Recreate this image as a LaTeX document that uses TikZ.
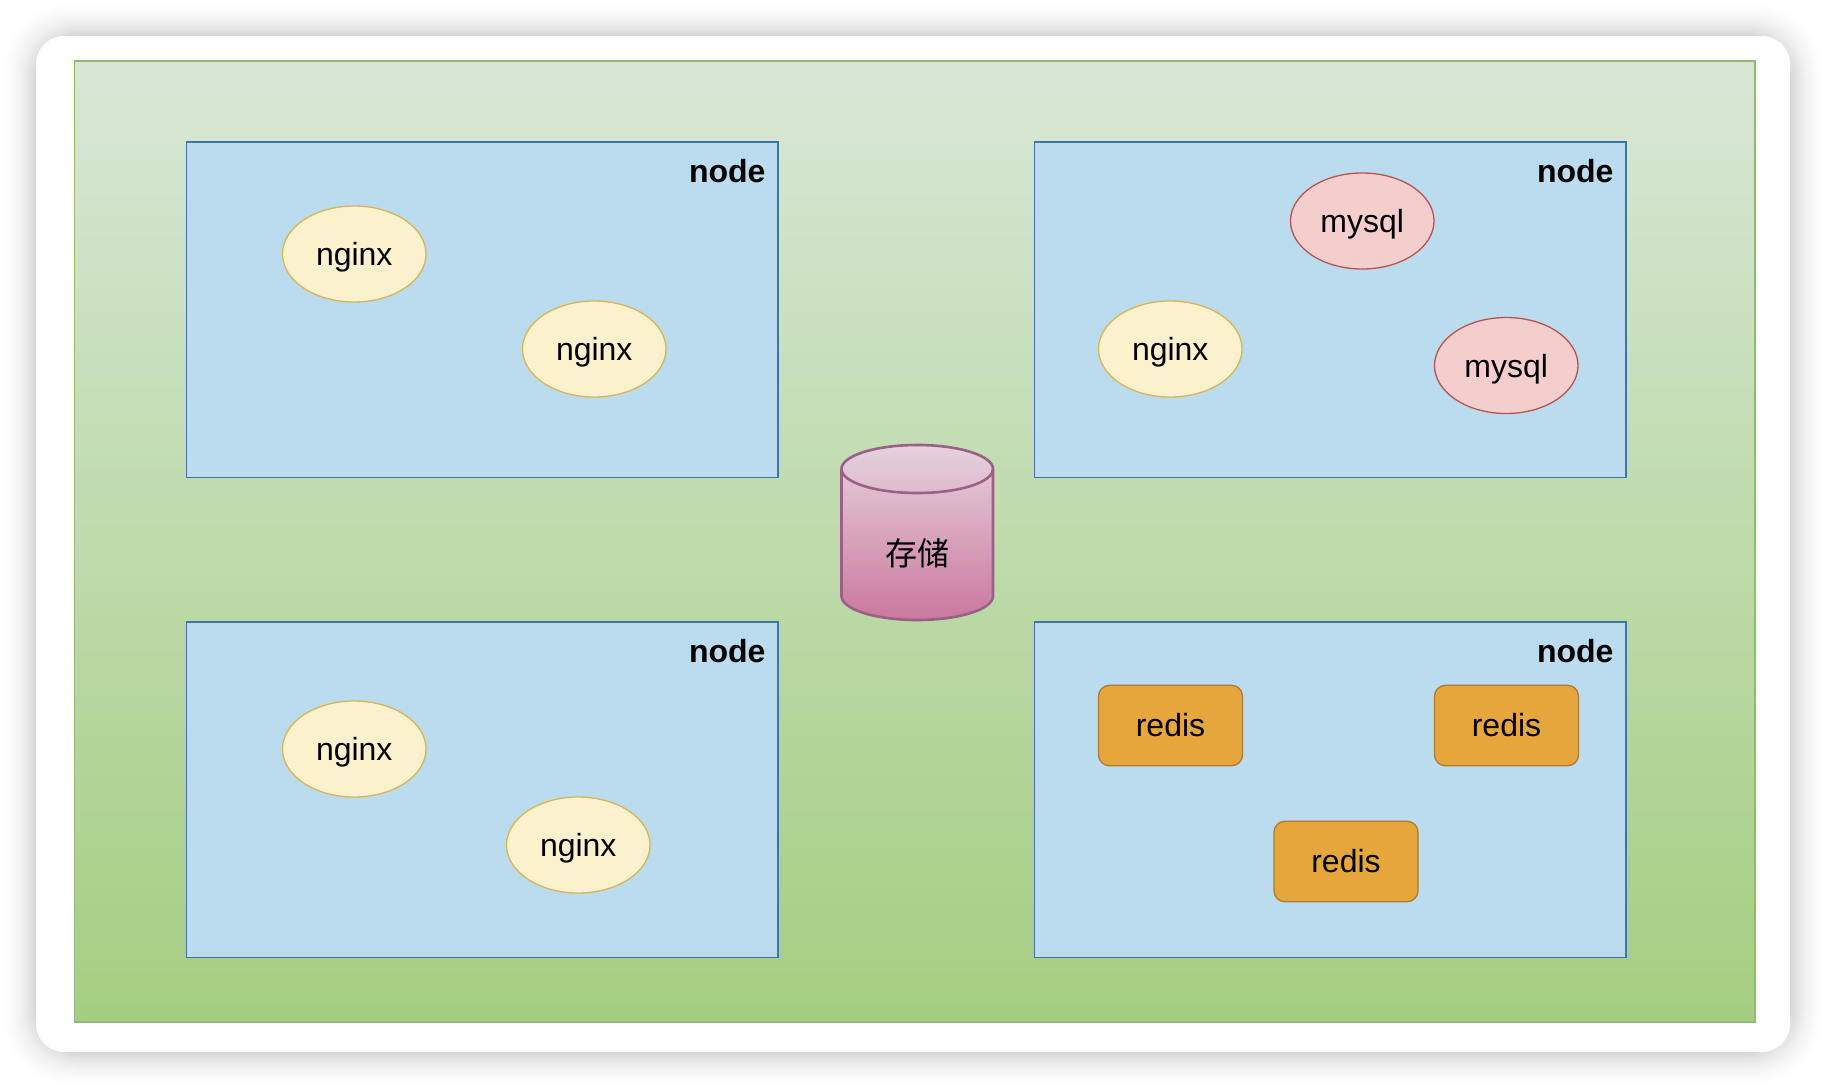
\documentclass[tikz,border=0pt]{standalone}
\usepackage{fontspec}
\usetikzlibrary{shapes.geometric}
\setmainfont{Liberation Sans}
\newfontfamily\cjkfont{Noto Sans CJK SC}
\begin{document}
\begin{tikzpicture}[x=1pt,y=-1pt,
  every node/.style={inner sep=0pt,outer sep=0pt,font=\fontsize{32}{36}\selectfont,text=black},
  hostbox/.style={draw=hostline,fill=hostfill,line width=1.8pt,minimum width=591.5pt,minimum height=335.5pt},
  hostlabel/.style={anchor=east,font=\fontsize{32}{36}\selectfont\bfseries},
  nginxpod/.style={ellipse,draw=nginxline,fill=nginxfill,line width=1.3pt,minimum width=143.5pt,minimum height=96pt,text height=23.3pt,text depth=0pt},
  mysqlpod/.style={ellipse,draw=mysqlline,fill=mysqlfill,line width=1.3pt,minimum width=143.5pt,minimum height=96pt,text height=23.3pt,text depth=0pt},
  redispod/.style={rectangle,rounded corners=11pt,draw=redisline,fill=redisfill,line width=1.3pt,minimum width=144pt,minimum height=80.5pt},
]
\definecolor{hostline}{HTML}{3B76A6}
\definecolor{hostfill}{HTML}{BBDBEF}
\definecolor{nginxline}{HTML}{D6B656}
\definecolor{nginxfill}{HTML}{FCF1CD}
\definecolor{mysqlline}{HTML}{B85450}
\definecolor{mysqlfill}{HTML}{F3CECC}
\definecolor{redisline}{HTML}{B07A2F}
\definecolor{redisfill}{HTML}{E5A63B}
\definecolor{greenline}{HTML}{8FBC6E}
\definecolor{greentop}{HTML}{D9E7D7}
\definecolor{greenbot}{HTML}{A4CE80}
\definecolor{cylline}{HTML}{996185}
\definecolor{cyltop}{HTML}{E6D2DF}
\definecolor{cylbot}{HTML}{CB789C}

\useasboundingbox (0,0) rectangle (1826,1088);
\fill[white] (0,0) rectangle (1826,1088);

% soft shadow of the card
\foreach \i in {36,35,...,0}{
  \pgfmathsetmacro{\dk}{17*(1-\i/36)*(1-\i/36)}
  \pgfmathsetmacro{\rr}{48+0.5*\i}
  \fill[black!\dk,rounded corners=\rr pt] (36-\i,36-\i) rectangle (1790+\i,1052+\i);
}
% card
\fill[white,rounded corners=28pt] (36,36) rectangle (1790,1052);

% cluster background
\node[rectangle,draw=greenline,line width=1.7pt,top color=greentop,bottom color=greenbot,
      minimum width=1680.5pt,minimum height=960.5pt] (cluster) at (914.75,541.5) {};

% hosts
\node[hostbox] (hostA) at (482.25,309.75) {};
\node[hostbox] (hostB) at (1330.25,309.75) {};
\node[hostbox] (hostC) at (482.25,789.75) {};
\node[hostbox] (hostD) at (1330.25,789.75) {};
\node[hostlabel] (labelA) at (765.5,171) {node};
\node[hostlabel] (labelB) at (1613.5,171) {node};
\node[hostlabel] (labelC) at (765.5,651) {node};
\node[hostlabel] (labelD) at (1613.5,651) {node};

% pods
\node[nginxpod] (n1) at (354.25,254) {nginx};
\node[nginxpod] (n2) at (594.25,349) {nginx};
\node[nginxpod] (n3) at (1170.25,349) {nginx};
\node[nginxpod] (n4) at (354.25,749) {nginx};
\node[nginxpod] (n5) at (578.25,845) {nginx};
\node[mysqlpod] (m1) at (1362.25,221) {mysql};
\node[mysqlpod] (m2) at (1506.25,365.5) {mysql};
\node[redispod] (r1) at (1170.5,725.5) {redis};
\node[redispod] (r2) at (1506.5,725.5) {redis};
\node[redispod] (r3) at (1346,861.5) {redis};

% storage cylinder
\path[draw=cylline,line width=2.6pt,top color=cyltop,bottom color=cylbot]
  (841.5,469) .. controls (841.5,455.7) and (875.4,445) .. (917.25,445)
  .. controls (959.1,445) and (993,455.7) .. (993,469)
  -- (993,596) .. controls (993,609.3) and (959.1,620) .. (917.25,620)
  .. controls (875.4,620) and (841.5,609.3) .. (841.5,596) -- cycle;
\draw[cylline,line width=2.6pt]
  (841.5,469) .. controls (841.5,482.3) and (875.4,493) .. (917.25,493)
  .. controls (959.1,493) and (993,482.3) .. (993,469);
\node[font=\fontsize{32}{36}\cjkfont] (store) at (917.25,553) {存储};
\end{tikzpicture}
\end{document}
